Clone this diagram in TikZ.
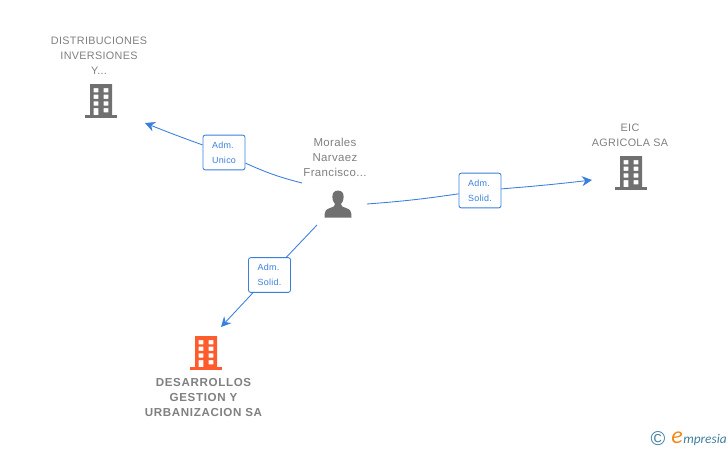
\documentclass[tikz,border=0pt]{standalone}
\usepackage{fontspec}
\setmainfont{Liberation Sans}
\newfontfamily\logofont{Carlito}
\usetikzlibrary{arrows.meta}
\definecolor{linkblue}{HTML}{3B7FDC}
\definecolor{icongray}{HTML}{707070}
\definecolor{textgray}{HTML}{808080}
\definecolor{iconorange}{HTML}{FF5C2E}
\definecolor{logoteal}{HTML}{3F7F9F}
\definecolor{logoorange}{HTML}{F08A1E}
\tikzset{
    lbl/.style={text=textgray,font=\fontsize{8.1pt}{11.25pt}\selectfont\addfontfeature{LetterSpace=3},align=center,inner sep=0pt},
    lblbig/.style={lbl,font=\fontsize{8.6pt}{11.25pt}\selectfont\addfontfeature{LetterSpace=3}},
    lblbold/.style={lbl,font=\fontsize{8.7pt}{11.25pt}\selectfont\bfseries\addfontfeature{LetterSpace=5.5}},
    role/.style={draw=linkblue,fill=white,rounded corners=1.6pt,line width=0.65pt,text=linkblue,minimum width=31.5pt,minimum height=26pt,inner sep=0pt,align=left,font=\fontsize{6.7pt}{11.25pt}\selectfont\addfontfeature{LetterSpace=3}},
    link/.style={draw=linkblue,line width=0.65pt},
    tip/.style={-{Stealth[length=7.5pt,width=7.5pt,inset=2.5pt]}},
    building/.pic={
      \fill[pic actions,even odd rule]
        (-11,-17) rectangle (11,14)
        (-7.3,-13) rectangle (-2.7,-8.7) (2.7,-13) rectangle (7.3,-8.7)
        (-7.3,-6.5) rectangle (-2.7,-2.2) (2.7,-6.5) rectangle (7.3,-2.2)
        (-7.3,0.3) rectangle (-2.7,4.6) (2.7,0.3) rectangle (7.3,4.6)
        (-7.3,7) rectangle (-2.7,14) (2.7,7) rectangle (7.3,11.3);
      \fill[pic actions] (-15.7,14) rectangle (15.7,16.7);
    },
    personicon/.pic={
      \fill[pic actions] (0,-13.5) .. controls (-4,-13.5) and (-5.8,-10.5) .. (-5.6,-7)
        .. controls (-5.4,-3.5) and (-4.4,-1.5) .. (-3,0)
        .. controls (-3,2) and (-4,2.6) .. (-8,4)
        .. controls (-12,5.4) and (-13.5,6.5) .. (-13.5,13.5)
        -- (13.5,13.5)
        .. controls (13.5,6.5) and (12,5.4) .. (8,4)
        .. controls (4,2.6) and (3,2) .. (3,0)
        .. controls (4.4,-1.5) and (5.4,-3.5) .. (5.6,-7)
        .. controls (5.8,-10.5) and (4,-13.5) .. (0,-13.5) -- cycle;
    }
}
\begin{document}
\begin{tikzpicture}[x=0.75pt,y=-0.75pt]
    \useasboundingbox (0,0) rectangle (728,450);
    \node[lbl] (dist) at (99,56) {DISTRIBUCIONES\\INVERSIONES\\Y...};
    \node[lbl] (eic) at (630,135) {EIC\\AGRICOLA SA};
    \node[lblbig] (morales) at (335,157.5) {Morales\\Narvaez\\Francisco...};
    \node[lblbold] (desa) at (203.5,398) {DESARROLLOS\\GESTION Y\\URBANIZACION SA};
    \pic[fill=icongray] at (101,101) {building};
    \pic[fill=icongray] at (631,173) {building};
    \pic[fill=iconorange] at (206,353) {building};
    \pic[fill=icongray] at (338,204) {personicon};
    \node[role] (unico) at (224,152.5) {Adm.\\Unico};
    \node[role] (solid1) at (480,190.5) {Adm.\\Solid.};
    \node[role] (solid2) at (269.5,275) {Adm.\\Solid.};
    \coordinate (p1) at (302,183);
    \coordinate (p2) at (367,204);
    \coordinate (p3) at (317,225);
    \coordinate (t1) at (145,123);
    \coordinate (t2) at (592,180);
    \coordinate (t3) at (221,327);
    % person to role box to company
    \draw [link] (p1) to[bend left=5] (unico);
    \draw [link,tip] (unico) to[bend left=1] (t1);
    \draw [link] (p2) to[bend right=2] (solid1);
    \draw [link,tip] (solid1) to[bend right=1] (t2);
    \draw [link] (p3) -- (solid2);
    \draw [link,tip] (solid2) -- (t3);
    % logo
    \node[text=logoteal,font=\fontsize{15pt}{15pt}\selectfont,inner sep=0pt] (copy) at (658,438.5) {\textcopyright};
    \node[text=logoorange,font=\fontsize{18pt}{18pt}\selectfont\logofont\itshape,inner sep=0pt] (logoe) at (677,438) {e};
    \node[text=logoteal,font=\fontsize{10pt}{10pt}\selectfont\logofont\itshape,inner sep=0pt,anchor=west] (logotxt) at (683,440) {mpresia};
\end{tikzpicture}
\end{document}
